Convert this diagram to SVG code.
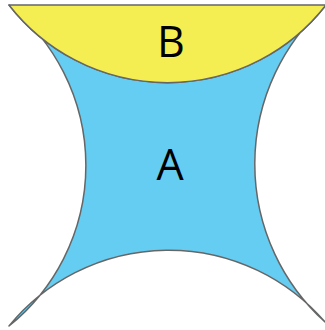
<svg xmlns="http://www.w3.org/2000/svg" width="325" height="330" viewBox="0 0 325 330">
  <style>
    .shape { stroke: #666666; stroke-width: 1.5; stroke-linejoin: round; }
    .a { fill: #66CDF2; }
    .b { fill: #F5EE52; }
    .label { font-family: "Open Sans", "Noto Sans", sans-serif; font-size: 43px; fill: #000000; text-anchor: middle; }
  </style>
  <rect width="325" height="330" fill="#FFFFFF"/>
  <g id="A">
    <path class="shape a" d="M9,5 A200.6,200.6 0 0 0 326,5 A213,213 0 0 0 325,322 A206,206 0 0 0 9,326 A206,206 0 0 0 9,5 Z"/>
    <text class="label" x="170" y="180">A</text>
  </g>
  <g id="B">
    <path class="shape b" d="M9,5 L326,5 A200.6,200.6 0 0 1 9,5 Z"/>
    <text class="label" x="171" y="57">B</text>
  </g>
</svg>
